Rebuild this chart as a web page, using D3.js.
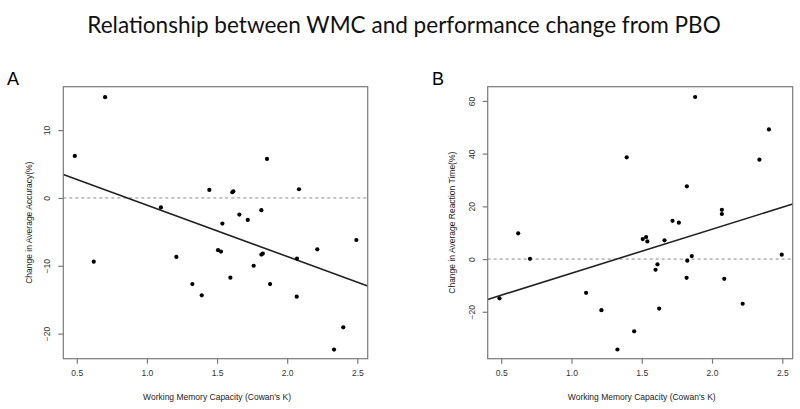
<!DOCTYPE html>
<html>
<head>
<meta charset="utf-8">
<script src="https://cdn.jsdelivr.net/npm/d3@7"></script>
<style>
  body { margin: 0; background: white; }
  svg { display: block; }
</style>
</head>
<body>
<div id="chart"></div>
<script>
// data
const x_ticks = [0.5, 1.0, 1.5, 2.0, 2.5];
const y_ticks_a = [-20, -10, 0, 10];
const y_ticks_b = [-20, 0, 20, 40, 60];

const wmc_a = [0.486, 0.621, 0.702, 1.10, 1.21, 1.324, 1.391, 1.445, 1.507, 1.528,
  1.538, 1.595, 1.609, 1.616, 1.659, 1.719, 1.761, 1.816, 1.816, 1.826,
  1.856, 1.878, 2.068, 2.07, 2.084, 2.215, 2.334, 2.40, 2.493];
const acc_change = [6.2, -9.4, 14.85, -1.4, -8.7, -12.7, -14.35, 1.18, -7.7, -7.9,
  -3.78, -11.75, 0.84, 0.99, -2.45, -3.24, -10.0, -1.8, -8.35, -8.2,
  5.75, -12.7, -14.55, -8.94, 1.28, -7.57, -22.36, -19.07, -6.2];

const wmc_b = [0.488, 0.621, 0.705, 1.104, 1.213, 1.327, 1.393, 1.446, 1.507, 1.531,
  1.54, 1.598, 1.612, 1.624, 1.662, 1.719, 1.764, 1.819, 1.821, 1.824,
  1.856, 1.88, 2.07, 2.07, 2.087, 2.218, 2.337, 2.405, 2.496];
const rt_change = [-14.9, 9.75, 0.1, -12.8, -19.4, -34.3, 38.6, -27.4, 7.6, 8.35,
  6.7, -4.05, -2.0, -18.8, 7.1, 14.5, 13.8, -7.1, 27.6, -0.6,
  1.14, 61.5, 18.7, 17.1, -7.5, -16.95, 37.7, 49.2, 1.65];

// fitted lines (intercept, slope)
const fit_a = [6.51, -7.57];
const fit_b = [-22.04, 16.68];

const W = 800, H = 409;
const svg = d3.select("#chart").append("svg").attr("width", W).attr("height", H);
svg.append("rect").attr("width", W).attr("height", H).attr("fill", "white");

const title = svg.append("text")
  .attr("x", 404)
  .attr("y", 33)
  .attr("text-anchor", "middle")
  .attr("font-family", "Lato, 'Open Sans', sans-serif")
  .attr("font-size", 25)
  .attr("fill", "#111")
  .text("Relationship between WMC and performance change from PBO");
// fit title width to the original
let tw = title.node().getComputedTextLength();
title.attr("font-size", 25 * 634 / tw);

const axis_font = "'Liberation Sans', Arial, Helvetica, sans-serif";
const grey = "#7a7a7a";

function panel(opts) {
  const left = opts.left, right = opts.right, top = 86.7, bottom = 358.7;
  const x = d3.scaleLinear().domain([0.404, 2.574]).range([left, right]);
  const y = d3.scaleLinear().domain(opts.ydomain).range([bottom, top]);

  svg.append("text")
    .attr("x", opts.letter_x)
    .attr("y", 85)
    .attr("font-family", axis_font)
    .attr("font-size", 18)
    .text(opts.letter);

  // zero reference line
  svg.append("line")
    .attr("x1", left).attr("x2", right)
    .attr("y1", y(0)).attr("y2", y(0))
    .attr("stroke", "#8a8a8a")
    .attr("stroke-width", 1)
    .attr("stroke-dasharray", "3,3");

  // regression line
  const fit = opts.fit;
  svg.append("line")
    .attr("x1", x(x.domain()[0])).attr("y1", y(fit[0] + fit[1] * x.domain()[0]))
    .attr("x2", x(x.domain()[1])).attr("y2", y(fit[0] + fit[1] * x.domain()[1]))
    .attr("stroke", "#222")
    .attr("stroke-width", 1.6);

  // points
  svg.append("g").selectAll("circle")
    .data(d3.range(opts.xs.length))
    .enter()
    .append("circle")
    .attr("cx", i => x(opts.xs[i]))
    .attr("cy", i => y(opts.ys[i]))
    .attr("r", 2.1)
    .attr("fill", "black");

  // box
  svg.append("rect")
    .attr("x", left).attr("y", top)
    .attr("width", right - left).attr("height", bottom - top)
    .attr("fill", "none")
    .attr("stroke", grey)
    .attr("stroke-width", 1.2);

  // x axis
  const gx = svg.append("g")
    .attr("transform", "translate(0," + bottom + ")")
    .call(d3.axisBottom(x).tickValues(x_ticks).tickFormat(d3.format(".1f")).tickSize(5).tickPadding(6));
  gx.select(".domain").remove();
  gx.selectAll("line").attr("stroke", grey).attr("stroke-width", 1.2);
  gx.selectAll("text")
    .attr("font-family", axis_font)
    .attr("font-size", 8.5)
    .attr("fill", "#333");

  // y axis, labels rotated as in R
  const gy = svg.append("g")
    .attr("transform", "translate(" + left + ",0)")
    .call(d3.axisLeft(y).tickValues(opts.yticks).tickFormat(d3.format("d")).tickSize(5));
  gy.select(".domain").remove();
  gy.selectAll("line").attr("stroke", grey).attr("stroke-width", 1.2);
  gy.selectAll("text")
    .attr("x", null).attr("dy", null)
    .attr("transform", "translate(-13,0) rotate(-90)")
    .attr("text-anchor", "middle")
    .attr("font-family", axis_font)
    .attr("font-size", 8.5)
    .attr("fill", "#333");

  svg.append("text")
    .attr("x", (x(0.5) + x(2.5)) / 2)
    .attr("y", 400)
    .attr("text-anchor", "middle")
    .attr("font-family", axis_font)
    .attr("font-size", 8.5)
    .attr("fill", "#222")
    .text("Working Memory Capacity (Cowan's K)");

  svg.append("text")
    .attr("transform", "translate(" + opts.ylab_x + "," + ((top + bottom) / 2) + ") rotate(-90)")
    .attr("text-anchor", "middle")
    .attr("font-family", axis_font)
    .attr("font-size", 8.5)
    .attr("fill", "#222")
    .text(opts.ylabel);
}

panel({
  left: 63.3, right: 367.7, ydomain: [-23.7, 16.4], yticks: y_ticks_a,
  xs: wmc_a, ys: acc_change, fit: fit_a,
  letter: "A", letter_x: 7, ylab_x: 31.5,
  ylabel: "Change in Average Accuracy(%)"
});

panel({
  left: 487.7, right: 792.7, ydomain: [-37.8, 65.4], yticks: y_ticks_b,
  xs: wmc_b, ys: rt_change, fit: fit_b,
  letter: "B", letter_x: 432, ylab_x: 455,
  ylabel: "Change in Average Reaction Time(%)"
});
</script>
</body>
</html>
